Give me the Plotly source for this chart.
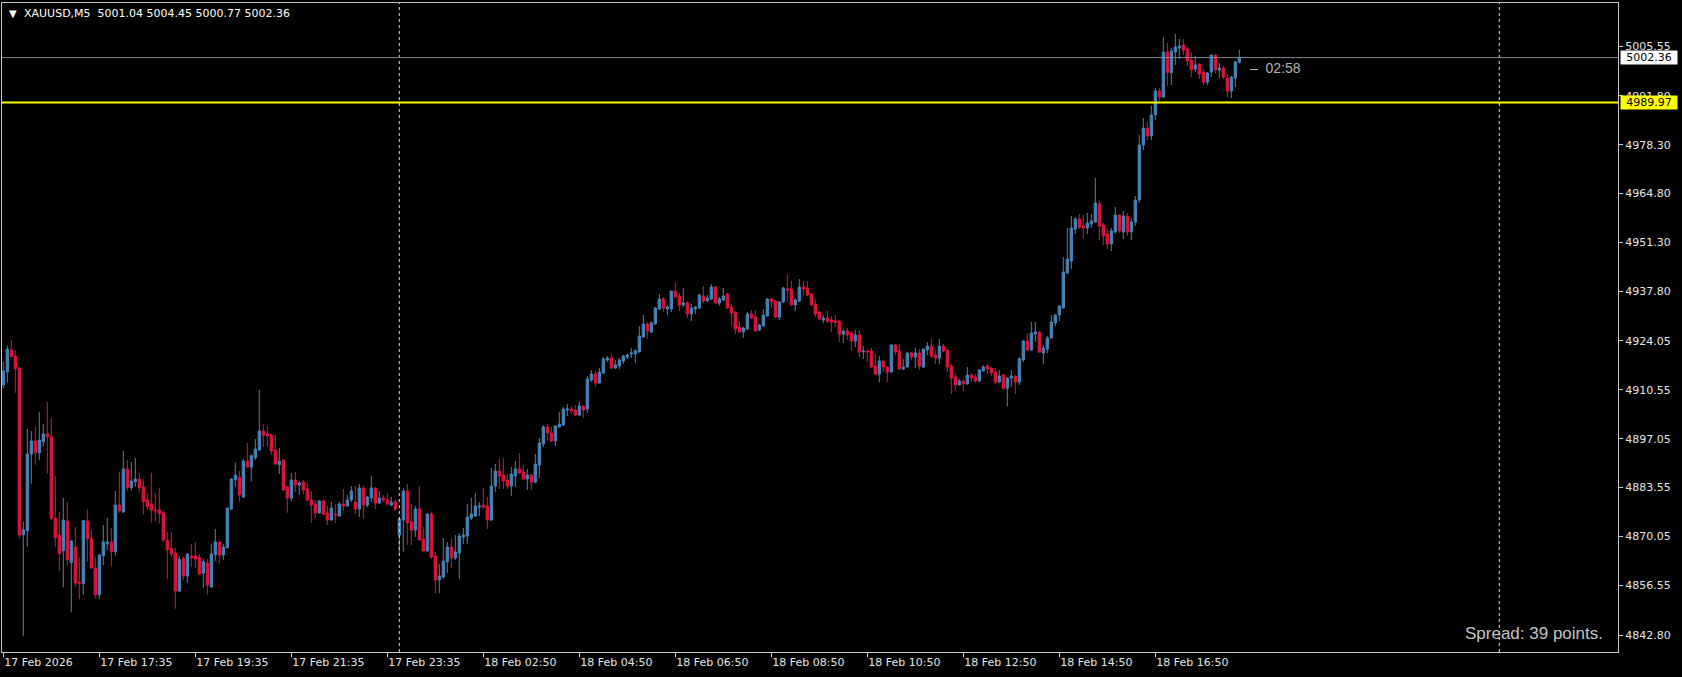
import plotly.graph_objects as go

# ---------------- data (XAUUSD M5, bars) ----------------
symbol_title = "XAUUSD,M5"
opens = [
4911.88, 4915.57, 4921.55, 4919.90, 4916.58, 4870.53, 4871.63, 4892.82, 4896.41, 4893.19,
4896.23, 4898.34, 4897.61, 4875.04, 4870.43, 4866.11, 4874.30, 4862.79, 4867.12, 4857.45,
4856.99, 4874.30, 4869.42, 4861.32, 4853.95, 4864.72, 4868.04, 4868.50, 4865.83, 4878.72,
4876.79, 4888.67, 4883.51, 4885.17, 4885.91, 4883.70, 4880.11, 4879.00, 4877.34, 4877.34,
4876.61, 4868.87, 4866.66, 4865.46, 4854.96, 4863.90, 4859.11, 4864.64, 4864.64, 4864.18,
4859.94, 4862.70, 4856.07, 4865.00, 4868.50, 4864.91, 4866.94, 4877.62, 4885.73, 4886.46,
4880.94, 4890.88, 4889.23, 4891.81, 4893.92, 4899.17, 4898.34, 4898.07, 4893.92, 4889.87,
4891.16, 4883.70, 4880.66, 4885.63, 4884.25, 4885.08, 4883.15, 4880.11, 4879.00, 4876.52,
4879.83, 4876.52, 4874.58, 4876.24, 4875.69, 4879.00, 4878.45, 4880.11, 4879.56, 4877.62,
4883.42, 4878.72, 4880.66, 4883.42, 4879.28, 4880.66, 4880.11, 4878.72, 4879.56, 4870.43,
4874.58, 4882.59, 4874.03, 4871.82, 4877.62, 4869.33, 4866.01, 4876.24, 4864.64, 4858.00,
4858.83, 4862.97, 4867.12, 4864.08, 4865.46, 4869.88, 4870.16, 4875.13, 4875.69, 4878.17,
4878.72, 4878.45, 4874.58, 4883.97, 4888.12, 4887.02, 4885.63, 4883.97, 4886.74, 4888.67,
4887.84, 4885.91, 4887.02, 4885.08, 4889.78, 4895.58, 4900.28, 4898.62, 4896.41, 4900.28,
4900.83, 4904.97, 4905.25, 4904.97, 4903.59, 4906.08, 4905.25, 4913.26, 4914.92, 4912.43,
4915.21, 4918.80, 4919.35, 4916.59, 4917.14, 4918.52, 4919.63, 4920.46, 4920.46, 4921.01,
4925.15, 4928.75, 4926.54, 4928.75, 4932.89, 4935.65, 4932.89, 4932.89, 4937.86, 4936.48,
4934.00, 4934.55, 4931.51, 4932.89, 4933.17, 4936.48, 4935.10, 4935.65, 4938.97, 4934.55,
4935.38, 4937.04, 4933.44, 4932.06, 4927.92, 4926.54, 4927.36, 4931.51, 4930.68, 4927.09,
4928.19, 4930.96, 4935.65, 4935.10, 4930.68, 4934.83, 4938.42, 4938.42, 4934.00, 4935.10,
4938.96, 4938.69, 4937.03, 4934.27, 4932.06, 4929.84, 4930.40, 4929.84, 4929.57, 4929.57,
4925.98, 4926.81, 4926.25, 4924.04, 4925.70, 4921.00, 4921.28, 4921.28, 4917.13, 4914.92,
4918.52, 4916.86, 4915.48, 4922.94, 4921.28, 4916.31, 4916.86, 4920.73, 4919.62, 4920.73,
4916.86, 4921.55, 4922.66, 4920.17, 4919.35, 4922.66, 4921.55, 4917.13, 4914.10, 4911.88,
4912.99, 4912.16, 4914.65, 4914.10, 4912.99, 4915.75, 4917.13, 4916.58, 4915.48, 4912.71,
4914.65, 4911.05, 4913.82, 4914.37, 4912.71, 4918.80, 4924.04, 4921.56, 4925.98, 4926.53,
4920.73, 4921.83, 4924.87, 4929.02, 4931.23, 4933.16, 4942.83, 4946.15, 4954.99, 4957.75,
4955.82, 4955.27, 4956.37, 4956.92, 4961.90, 4956.10, 4953.61, 4950.85, 4954.16, 4958.86,
4954.16, 4958.58, 4954.16, 4956.93, 4963.01, 4978.21, 4982.90, 4980.69, 4986.50, 4993.12,
4991.46, 5003.90, 4998.19, 5003.90, 5005.00, 5005.83, 5004.73, 5001.69, 4999.20, 5000.58,
4998.37, 4995.61, 4998.37, 5003.07, 4998.93, 4999.48, 4996.72, 4993.12, 4996.72, 5001.04,
]
highs = [
4918.33, 4922.75, 4924.32, 4921.37, 4916.80, 4874.12, 4899.72, 4899.17, 4900.37, 4904.42,
4901.11, 4907.19, 4902.86, 4886.74, 4876.79, 4880.66, 4879.56, 4869.06, 4872.65, 4864.36,
4874.58, 4877.53, 4871.82, 4864.45, 4865.19, 4873.20, 4875.13, 4872.37, 4882.59, 4887.84,
4893.65, 4891.16, 4890.61, 4891.71, 4887.66, 4885.91, 4881.95, 4887.66, 4882.13, 4883.51,
4877.16, 4871.27, 4871.27, 4866.84, 4864.64, 4864.45, 4865.37, 4867.95, 4868.50, 4865.19,
4863.81, 4863.81, 4867.95, 4872.09, 4868.78, 4867.95, 4878.08, 4886.19, 4890.52, 4888.12,
4891.44, 4895.86, 4892.82, 4896.96, 4910.50, 4901.02, 4900.56, 4898.53, 4898.07, 4894.48,
4891.44, 4883.97, 4887.57, 4887.84, 4885.36, 4885.63, 4884.80, 4882.59, 4880.11, 4880.11,
4880.11, 4878.45, 4879.56, 4879.00, 4879.56, 4883.15, 4881.49, 4883.97, 4883.97, 4884.53,
4883.97, 4881.21, 4886.74, 4883.60, 4882.59, 4881.49, 4882.04, 4880.94, 4880.11, 4875.32,
4883.33, 4884.53, 4879.00, 4878.45, 4883.97, 4872.65, 4876.52, 4876.79, 4865.74, 4862.42,
4869.61, 4868.50, 4869.33, 4870.43, 4870.99, 4872.37, 4879.00, 4880.66, 4882.04, 4879.56,
4883.42, 4880.94, 4888.95, 4890.05, 4891.44, 4891.71, 4887.29, 4889.23, 4890.88, 4893.09,
4889.78, 4888.67, 4887.20, 4892.82, 4897.24, 4900.83, 4901.11, 4900.28, 4900.83, 4904.42,
4905.80, 4906.63, 4906.08, 4906.36, 4907.46, 4906.20, 4914.37, 4916.03, 4915.75, 4916.58,
4919.63, 4919.90, 4920.73, 4918.80, 4919.35, 4920.18, 4920.46, 4922.11, 4921.84, 4928.19,
4931.23, 4929.30, 4929.58, 4933.44, 4937.04, 4936.21, 4934.00, 4938.00, 4940.07, 4937.31,
4938.69, 4935.10, 4934.27, 4933.72, 4937.04, 4939.25, 4936.76, 4939.80, 4939.25, 4936.21,
4938.69, 4937.31, 4934.27, 4932.20, 4929.58, 4927.92, 4932.06, 4932.62, 4932.62, 4928.75,
4932.89, 4935.93, 4935.93, 4935.38, 4935.10, 4938.97, 4942.29, 4940.63, 4935.93, 4941.18,
4940.62, 4940.62, 4937.20, 4935.65, 4932.20, 4931.23, 4932.33, 4930.95, 4931.23, 4929.70,
4927.08, 4927.63, 4926.81, 4927.08, 4927.08, 4922.66, 4921.55, 4922.11, 4920.45, 4919.90,
4918.79, 4917.13, 4923.10, 4923.21, 4923.21, 4919.07, 4920.90, 4921.00, 4922.11, 4921.83,
4922.00, 4923.77, 4924.59, 4921.55, 4924.59, 4923.21, 4921.70, 4917.69, 4914.92, 4913.54,
4913.54, 4916.86, 4915.20, 4914.92, 4916.31, 4917.41, 4917.69, 4916.86, 4916.58, 4916.03,
4914.92, 4914.00, 4916.03, 4914.50, 4919.62, 4924.32, 4926.25, 4929.29, 4929.29, 4926.70,
4922.94, 4925.43, 4931.23, 4931.40, 4933.90, 4947.25, 4955.27, 4958.58, 4958.31, 4959.14,
4958.86, 4959.41, 4959.14, 4969.08, 4962.73, 4956.65, 4954.99, 4955.27, 4961.07, 4959.00,
4959.96, 4959.41, 4958.03, 4964.11, 4980.97, 4985.67, 4984.56, 4988.98, 4993.95, 4993.95,
5008.04, 5006.39, 5005.00, 5008.87, 5007.49, 5007.49, 5005.28, 5003.90, 5002.79, 5000.70,
4999.20, 4998.30, 5003.20, 5003.20, 5000.86, 5000.03, 4997.82, 4997.27, 5001.41, 5004.45,
]
lows = [
4910.96, 4912.53, 4919.53, 4909.76, 4869.42, 4842.53, 4867.21, 4884.62, 4889.87, 4891.16,
4894.84, 4887.38, 4874.58, 4867.21, 4860.58, 4855.98, 4861.96, 4849.07, 4856.16, 4852.66,
4853.95, 4863.07, 4861.13, 4852.93, 4852.66, 4862.15, 4866.29, 4861.69, 4864.72, 4876.61,
4876.61, 4882.68, 4882.68, 4883.79, 4882.13, 4876.15, 4877.34, 4873.84, 4874.12, 4873.66,
4868.50, 4858.19, 4864.45, 4850.08, 4854.69, 4858.00, 4857.27, 4861.69, 4861.32, 4859.29,
4855.89, 4853.95, 4855.90, 4863.34, 4862.51, 4863.53, 4866.75, 4877.34, 4883.79, 4879.65,
4880.66, 4889.04, 4885.17, 4891.16, 4893.65, 4894.75, 4895.03, 4892.54, 4889.78, 4887.29,
4882.59, 4876.61, 4879.83, 4882.32, 4881.49, 4881.77, 4879.83, 4873.75, 4875.13, 4876.33,
4875.96, 4873.20, 4874.30, 4873.75, 4875.50, 4877.07, 4878.30, 4879.56, 4876.24, 4875.41,
4874.86, 4878.17, 4879.56, 4877.62, 4879.10, 4879.56, 4878.80, 4878.45, 4877.07, 4864.91,
4865.83, 4867.67, 4867.67, 4869.88, 4868.90, 4865.90, 4865.90, 4863.80, 4854.32, 4854.32,
4858.28, 4859.94, 4861.32, 4863.53, 4858.28, 4867.95, 4867.95, 4874.58, 4875.50, 4875.69,
4877.62, 4872.09, 4874.30, 4882.32, 4883.15, 4883.15, 4883.15, 4881.21, 4883.70, 4887.29,
4885.63, 4882.87, 4882.87, 4884.80, 4886.19, 4894.75, 4896.69, 4896.13, 4895.03, 4900.10,
4900.56, 4903.32, 4903.87, 4903.32, 4903.32, 4902.76, 4904.15, 4912.71, 4911.33, 4912.30,
4914.93, 4918.25, 4916.31, 4916.31, 4916.31, 4917.70, 4919.07, 4919.35, 4917.97, 4920.80,
4925.00, 4924.60, 4926.26, 4928.47, 4932.62, 4932.06, 4931.23, 4932.06, 4936.10, 4932.34,
4933.44, 4930.40, 4929.58, 4931.51, 4933.00, 4934.55, 4934.90, 4935.38, 4934.27, 4933.72,
4935.10, 4933.00, 4928.47, 4925.98, 4926.26, 4924.88, 4927.09, 4930.13, 4926.60, 4926.81,
4928.00, 4930.80, 4933.17, 4930.40, 4929.85, 4934.55, 4934.83, 4933.80, 4932.34, 4934.90,
4936.48, 4936.48, 4933.71, 4930.67, 4929.84, 4929.02, 4929.02, 4926.53, 4927.91, 4923.77,
4923.49, 4924.32, 4921.28, 4922.38, 4919.62, 4919.07, 4918.24, 4916.58, 4914.65, 4912.71,
4915.48, 4912.71, 4915.20, 4920.17, 4916.03, 4916.03, 4916.70, 4918.79, 4916.58, 4916.03,
4916.58, 4920.17, 4919.35, 4917.69, 4917.69, 4921.00, 4915.48, 4909.40, 4910.23, 4911.70,
4910.23, 4912.00, 4912.71, 4912.44, 4912.80, 4915.48, 4914.92, 4914.37, 4912.16, 4912.50,
4910.69, 4906.08, 4911.33, 4909.40, 4911.88, 4918.24, 4921.28, 4921.40, 4923.77, 4920.80,
4917.69, 4920.73, 4924.70, 4928.19, 4929.57, 4933.00, 4942.70, 4943.94, 4953.61, 4954.99,
4952.23, 4953.61, 4955.27, 4956.70, 4951.95, 4950.57, 4949.46, 4948.91, 4953.61, 4953.89,
4952.23, 4953.06, 4951.95, 4955.82, 4962.18, 4976.82, 4979.59, 4979.59, 4985.11, 4990.36,
4991.30, 4994.51, 4994.78, 5000.31, 5001.96, 5003.07, 5000.03, 4996.99, 4998.37, 4996.44,
4994.78, 4994.78, 4996.99, 4998.10, 4996.72, 4996.44, 4991.46, 4991.19, 4994.23, 5000.77,
]
closes = [
4915.75, 4921.83, 4919.71, 4916.40, 4870.43, 4871.82, 4892.82, 4896.41, 4893.19, 4896.69,
4898.34, 4897.61, 4875.04, 4869.70, 4865.28, 4874.58, 4863.62, 4868.78, 4857.17, 4857.08,
4874.40, 4869.42, 4861.32, 4853.95, 4864.91, 4868.50, 4868.50, 4865.83, 4878.72, 4877.16,
4888.67, 4883.51, 4885.36, 4885.91, 4883.51, 4879.65, 4878.26, 4877.34, 4877.16, 4876.33,
4869.06, 4866.38, 4865.19, 4854.96, 4863.62, 4859.11, 4865.19, 4864.18, 4863.81, 4859.66,
4863.07, 4856.62, 4865.19, 4868.50, 4864.91, 4867.12, 4877.90, 4885.91, 4887.02, 4881.49,
4890.88, 4889.23, 4892.36, 4894.20, 4899.17, 4898.07, 4897.79, 4893.65, 4890.05, 4890.79,
4882.87, 4880.66, 4885.63, 4884.25, 4884.80, 4882.87, 4880.11, 4878.72, 4876.52, 4879.83,
4876.24, 4874.58, 4877.90, 4875.96, 4879.00, 4878.45, 4880.11, 4882.59, 4877.62, 4883.42,
4878.72, 4880.94, 4883.42, 4879.28, 4880.66, 4880.11, 4879.00, 4879.56, 4877.62, 4874.86,
4882.59, 4873.84, 4871.82, 4877.62, 4869.06, 4866.01, 4876.24, 4864.36, 4858.00, 4859.11,
4863.25, 4867.12, 4864.08, 4865.74, 4870.16, 4870.43, 4875.41, 4876.24, 4878.45, 4878.45,
4878.17, 4874.58, 4883.97, 4888.12, 4886.74, 4885.36, 4883.97, 4887.29, 4888.67, 4887.57,
4885.91, 4887.02, 4885.08, 4890.05, 4895.86, 4900.28, 4898.62, 4896.41, 4900.56, 4901.11,
4905.25, 4905.25, 4904.70, 4903.59, 4906.08, 4904.97, 4913.54, 4914.92, 4912.43, 4915.47,
4919.07, 4919.35, 4916.59, 4917.42, 4918.80, 4919.90, 4920.18, 4920.73, 4921.29, 4925.43,
4928.75, 4926.81, 4929.02, 4933.17, 4935.65, 4933.17, 4933.44, 4937.86, 4936.21, 4934.00,
4934.55, 4931.51, 4933.17, 4933.44, 4936.76, 4935.10, 4935.93, 4938.97, 4934.55, 4935.65,
4936.48, 4933.17, 4931.79, 4927.36, 4926.54, 4927.64, 4931.51, 4930.40, 4926.81, 4928.47,
4931.23, 4935.65, 4934.83, 4930.68, 4934.83, 4938.69, 4938.14, 4934.00, 4935.38, 4938.97,
4938.41, 4936.75, 4934.00, 4931.50, 4930.12, 4930.40, 4929.57, 4929.29, 4929.29, 4925.98,
4926.81, 4925.70, 4924.04, 4925.70, 4921.00, 4921.28, 4921.00, 4916.86, 4914.92, 4918.52,
4916.86, 4915.48, 4922.94, 4921.00, 4916.31, 4916.86, 4920.73, 4919.62, 4920.73, 4917.13,
4921.83, 4922.66, 4919.90, 4919.35, 4922.66, 4921.28, 4916.86, 4913.82, 4911.88, 4912.99,
4912.16, 4914.65, 4913.82, 4912.99, 4916.03, 4916.86, 4916.31, 4915.20, 4912.71, 4914.37,
4910.96, 4913.82, 4914.37, 4912.71, 4919.07, 4924.04, 4921.56, 4926.25, 4926.53, 4921.00,
4922.11, 4924.87, 4929.29, 4931.23, 4933.72, 4943.11, 4946.70, 4955.27, 4957.75, 4955.54,
4955.27, 4956.65, 4957.20, 4962.17, 4955.82, 4953.06, 4950.85, 4954.44, 4958.86, 4954.44,
4958.58, 4954.16, 4956.93, 4963.01, 4978.21, 4982.90, 4980.69, 4986.50, 4993.12, 4991.46,
5003.90, 4998.19, 5004.18, 5005.28, 5005.56, 5004.45, 5001.41, 4999.02, 5000.31, 4997.82,
4995.61, 4998.10, 5003.07, 4998.93, 4999.48, 4996.99, 4993.12, 4996.99, 5001.14, 5002.36,
]

# time-axis labels (bar index of each label) and day separators
tick_idx = [0, 24, 48, 72, 96, 120, 144, 168, 192, 216, 240, 264, 288]
tick_labels = ["17 Feb 2026", "17 Feb 17:35", "17 Feb 19:35", "17 Feb 21:35", "17 Feb 23:35",
               "18 Feb 02:50", "18 Feb 04:50", "18 Feb 06:50", "18 Feb 08:50", "18 Feb 10:50",
               "18 Feb 12:50", "18 Feb 14:50", "18 Feb 16:50"]
day_separators = [99, 374]

# price-axis labels
price_ticks = [5005.55, 4991.80, 4978.30, 4964.80, 4951.30, 4937.80, 4924.05,
               4910.55, 4897.05, 4883.55, 4870.05, 4856.55, 4842.80]
price_range = [4838.11, 5017.44]

alert_level = 4989.97
countdown = "02:58"
spread_points = 39

# ---------------- figure ----------------
W, H = 1682, 677
ML, MR, MT, MB = 2, 64, 3, 25
bar_px = 4.0
plot_w = W - ML - MR
x_start = -0.33
x_end = x_start + plot_w / bar_px

n = len(closes)
x_idx = list(range(n))

BLUE = "#4682B4"
RED = "#DC143C"
AX = "#c8c8c8"
TXT = "#e6e6e6"
FONT = "DejaVu Sans"

fig = go.Figure()
fig.add_trace(go.Candlestick(
    x=x_idx, open=opens, high=highs, low=lows, close=closes,
    increasing=dict(line=dict(color=BLUE, width=1), fillcolor=BLUE),
    decreasing=dict(line=dict(color=RED, width=1), fillcolor=RED),
    whiskerwidth=0, hoverinfo="skip", showlegend=False,
))

shapes = []
for s in day_separators:
    shapes.append(dict(type="line", xref="x", yref="paper", x0=s, x1=s, y0=0, y1=1,
                       line=dict(color="#d8d8d8", width=1, dash="3px,3px"), layer="above"))
shapes.append(dict(type="line", xref="paper", yref="y", x0=0, x1=1,
                   y0=closes[-1], y1=closes[-1], line=dict(color="#7d8791", width=1)))
shapes.append(dict(type="line", xref="paper", yref="y", x0=0, x1=1,
                   y0=alert_level, y1=alert_level, line=dict(color="#ffff00", width=2)))

last_o, last_h, last_l, last_c = opens[-1], highs[-1], lows[-1], closes[-1]
annotations = [
    dict(xref="paper", yref="paper", x=0, y=1, xanchor="left", yanchor="middle",
         xshift=5, yshift=-10, text="\u25BC", showarrow=False,
         font=dict(family=FONT, size=10, color="#ffffff")),
    dict(xref="paper", yref="paper", x=0, y=1, xanchor="left", yanchor="middle",
         xshift=20, yshift=-10,
         text=f"{symbol_title}\u00a0\u00a0{last_o:.2f} {last_h:.2f} {last_l:.2f} {last_c:.2f}",
         showarrow=False, font=dict(family=FONT, size=11, color="#ffffff")),
    dict(xref="paper", yref="y", x=1, y=last_c, xanchor="left", yanchor="middle", xshift=2,
         text=f"{last_c:.2f}", showarrow=False, bgcolor="#ffffff", width=54, height=11,
         borderpad=1, font=dict(family=FONT, size=11, color="#000000")),
    dict(xref="paper", yref="y", x=1, y=alert_level, xanchor="left", yanchor="middle", xshift=2,
         text=f"{alert_level:.2f}", showarrow=False, bgcolor="#ffff00", width=54, height=11,
         borderpad=1, font=dict(family=FONT, size=11, color="#000000")),
    dict(xref="x", yref="y", x=n - 1 + 2.2, y=last_c, xanchor="left", yanchor="middle",
         yshift=-10, text=f"\u2013\u00a0\u00a0{countdown}", showarrow=False,
         font=dict(family="Liberation Sans", size=14, color="#b4b4b4")),
    dict(xref="paper", yref="paper", x=1, y=0, xanchor="right", yanchor="middle",
         xshift=-13, yshift=19, text=f"Spread: {spread_points} points.", showarrow=False,
         font=dict(family="Liberation Sans", size=17, color="#c4c4c4")),
]

fig.update_layout(
    width=W, height=H,
    paper_bgcolor="#000000", plot_bgcolor="#000000",
    margin=dict(l=ML, r=MR, t=MT, b=MB, pad=0),
    showlegend=False, boxgap=0.42, boxgroupgap=0,
    shapes=shapes, annotations=annotations,
    xaxis=dict(
        range=[x_start, x_end], rangeslider=dict(visible=False),
        tickmode="array", tickvals=tick_idx, ticktext=tick_labels,
        ticks="outside", ticklen=4, tickcolor=AX, tickwidth=1,
        ticklabelposition="outside right",
        tickfont=dict(family=FONT, size=11, color=TXT),
        showgrid=False, zeroline=False, showline=True, linecolor=AX, linewidth=1, mirror=True,
    ),
    yaxis=dict(
        side="right", range=price_range,
        tickmode="array", tickvals=price_ticks, ticktext=[f"{v:.2f}" for v in price_ticks],
        ticks="outside", ticklen=4, tickcolor=AX, tickwidth=1,
        tickfont=dict(family=FONT, size=11, color=TXT),
        showgrid=False, zeroline=False, showline=True, linecolor=AX, linewidth=1, mirror=True,
    ),
)

fig.write_html("out.html",
               config={"displayModeBar": False},
               post_script="document.body.style.margin='0px';document.body.style.overflow='hidden';")
